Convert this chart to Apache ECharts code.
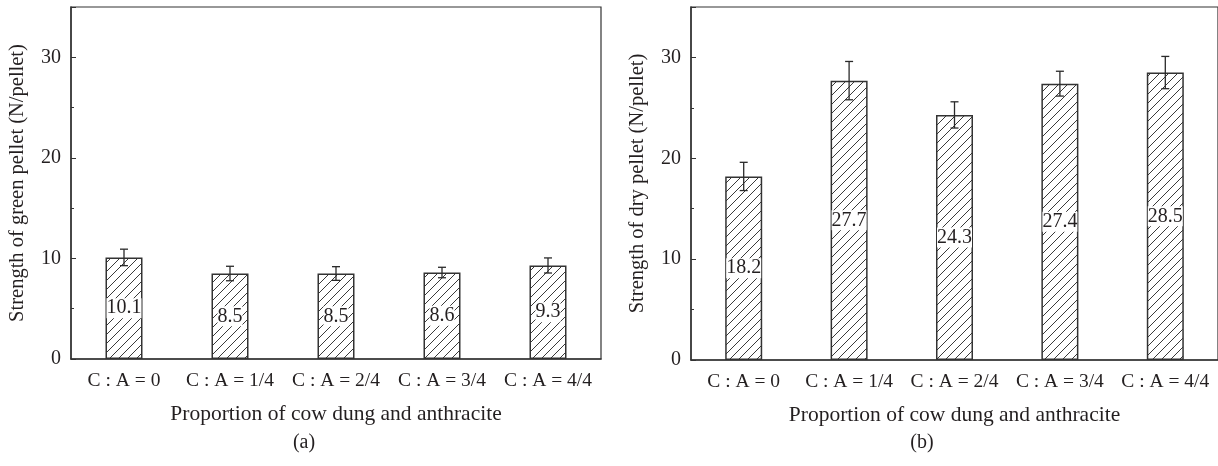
<!DOCTYPE html>
<html>
<head>
<meta charset="utf-8">
<script src="https://cdn.jsdelivr.net/npm/echarts@6/dist/echarts.min.js"></script>
<style>
html,body{margin:0;padding:0;background:#fff;}
#chart{width:1218px;height:466px;}
</style>
</head>
<body>
<div id="chart"></div>
<script>
// ---- data ----
const categories = ['C : A = 0', 'C : A = 1/4', 'C : A = 2/4', 'C : A = 3/4', 'C : A = 4/4'];
const greenValues = [10.1, 8.5, 8.5, 8.6, 9.3];
const greenErrors = [0.82, 0.72, 0.68, 0.52, 0.75];
const dryValues = [18.2, 27.7, 24.3, 27.4, 28.5];
const dryErrors = [1.4, 1.9, 1.3, 1.23, 1.6];
const yTicks = [0, 10, 20, 30];
const xTitle = 'Proportion of cow dung and anthracite';
const yTitleGreen = 'Strength of green pellet (N/pellet)';
const yTitleDry = 'Strength of dry pellet (N/pellet)';
const captions = ['(a)', '(b)'];

// ---- style ----
const FONT = '"Liberation Serif", "DejaVu Serif", serif';
const TXT = '#231f20';
const LINE = '#333333';

function hatch() {
  const s = 9;
  const c = document.createElement('canvas');
  c.width = s; c.height = s;
  const g = c.getContext('2d');
  g.fillStyle = '#ffffff';
  g.fillRect(0, 0, s, s);
  g.strokeStyle = '#3a3a3a';
  g.lineWidth = 1;
  g.beginPath();
  g.moveTo(-1, s + 1); g.lineTo(s + 1, -1);
  g.moveTo(-2, 2); g.lineTo(2, -2);
  g.moveTo(s - 2, s + 2); g.lineTo(s + 2, s - 2);
  g.stroke();
  return c;
}
const pattern = { image: hatch(), repeat: 'repeat' };

function makeAxes(gridIndex, yName) {
  const x = {
    type: 'category', gridIndex: gridIndex, data: categories,
    boundaryGap: true,
    axisLine: { show: true, lineStyle: { color: LINE, width: 1.5 } },
    axisTick: { show: false },
    axisLabel: { color: TXT, fontFamily: FONT, fontSize: 19.5, margin: 12, interval: 0 },
    name: xTitle, nameLocation: 'middle', nameGap: 44,
    nameTextStyle: { color: TXT, fontFamily: FONT, fontSize: 21.5 },
    splitLine: { show: false }
  };
  const y = {
    type: 'value', gridIndex: gridIndex, min: 0, max: 35, interval: 10,
    axisLine: { show: true, lineStyle: { color: LINE, width: 1.5 } },
    axisTick: { show: true, inside: true, length: 5, lineStyle: { color: LINE, width: 1 } },
    minorTick: { show: true, splitNumber: 2, length: 3, lineStyle: { color: LINE, width: 1 } },
    axisLabel: {
      color: TXT, fontFamily: FONT, fontSize: 20, margin: 10,
      formatter: function (v) { return yTicks.indexOf(v) >= 0 ? String(v) : ''; }
    },
    name: yName, nameLocation: 'middle', nameGap: 43, nameRotate: 90,
    nameTextStyle: { color: TXT, fontFamily: FONT, fontSize: 20.5 },
    splitLine: { show: false }
  };
  return { x: x, y: y };
}

function barSeries(idx, values) {
  return {
    type: 'bar', xAxisIndex: idx, yAxisIndex: idx,
    data: values, barWidth: 37,
    itemStyle: { color: pattern, borderColor: LINE, borderWidth: 1.5 },
    label: {
      show: true, position: 'inside', color: TXT, fontFamily: FONT, fontSize: 20,
      backgroundColor: '#ffffff', padding: [0, 0]
    },
    silent: true, z: 2
  };
}

function errSeries(idx, values, errs) {
  const data = values.map(function (v, i) { return [i, v - errs[i], v + errs[i]]; });
  return {
    type: 'custom', xAxisIndex: idx, yAxisIndex: idx, data: data, z: 5, silent: true,
    renderItem: function (params, api) {
      const lo = api.coord([api.value(0), api.value(1)]);
      const hi = api.coord([api.value(0), api.value(2)]);
      const w = 4;
      const st = { stroke: '#2a2a2a', lineWidth: 1.3 };
      return {
        type: 'group',
        children: [
          { type: 'line', shape: { x1: lo[0], y1: lo[1], x2: hi[0], y2: hi[1] }, style: st },
          { type: 'line', shape: { x1: lo[0] - w, y1: lo[1], x2: lo[0] + w, y2: lo[1] }, style: st },
          { type: 'line', shape: { x1: hi[0] - w, y1: hi[1], x2: hi[0] + w, y2: hi[1] }, style: st }
        ]
      };
    }
  };
}

const a0 = makeAxes(0, yTitleGreen);
const a1 = makeAxes(1, yTitleDry);

const chart = echarts.init(document.getElementById('chart'), null, { renderer: 'canvas' });
chart.setOption({
  animation: false,
  backgroundColor: '#ffffff',
  grid: [
    { left: 71, right: 617, top: 7, bottom: 107, show: true, borderColor: LINE, borderWidth: 1.2, backgroundColor: 'transparent' },
    { left: 691, right: -1, top: 7, bottom: 106, show: true, borderColor: LINE, borderWidth: 1.2, backgroundColor: 'transparent' }
  ],
  xAxis: [a0.x, a1.x],
  yAxis: [a0.y, a1.y],
  series: [
    barSeries(0, greenValues), errSeries(0, greenValues, greenErrors),
    barSeries(1, dryValues), errSeries(1, dryValues, dryErrors)
  ],
  graphic: [
    { type: 'text', x: 304, y: 443, style: { text: captions[0], font: '20px ' + FONT, fill: TXT, align: 'center', verticalAlign: 'middle' } },
    { type: 'text', x: 922, y: 443, style: { text: captions[1], font: '20px ' + FONT, fill: TXT, align: 'center', verticalAlign: 'middle' } }
  ]
});
</script>
</body>
</html>
